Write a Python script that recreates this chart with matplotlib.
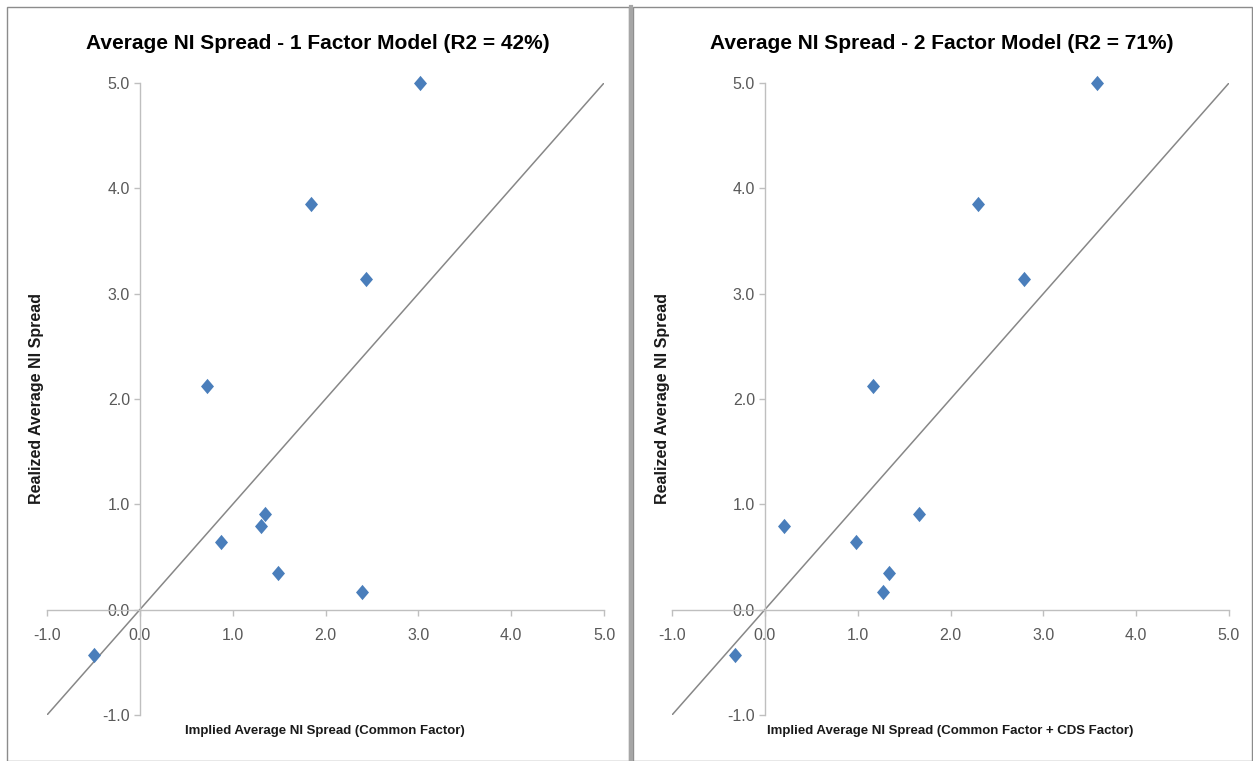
import matplotlib
matplotlib.use("Agg")
import matplotlib.pyplot as plt
from matplotlib.patches import Rectangle
from matplotlib.lines import Line2D
from matplotlib.path import Path

# realized spread (same for both panels)
realized = [5.0, 3.85, 3.14, 2.12, 0.64, 0.79, 0.91, 0.35, 0.17, -0.43]
# implied spread, 1 factor model
implied_1f = [3.02, 1.84, 2.44, 0.72, 0.87, 1.30, 1.35, 1.49, 2.39, -0.49]
# implied spread, 2 factor model
implied_2f = [3.58, 2.30, 2.79, 1.17, 0.98, 0.21, 1.66, 1.34, 1.27, -0.32]

titles = ["Average NI Spread - 1 Factor Model (R2 = 42%)",
          "Average NI Spread - 2 Factor Model (R2 = 71%)"]
xlabels = ["Implied Average NI Spread (Common Factor)",
           "Implied Average NI Spread (Common Factor + CDS Factor)"]
ylabel = "Realized Average NI Spread"
ticks = [-1.0, 0.0, 1.0, 2.0, 3.0, 4.0, 5.0]
diag = [-1.0, 5.0]

plt.rcParams['font.family'] = ["Liberation Sans", "DejaVu Sans"]

W, H = 1253, 761
fig = plt.figure(figsize=(W / 100, H / 100), dpi=100)
fig.patch.set_facecolor("white")

# diamond slightly narrower than tall
diamond = Path([(0, 1), (0.85, 0), (0, -1), (-0.85, 0), (0, 1)],
               [Path.MOVETO, Path.LINETO, Path.LINETO, Path.LINETO, Path.CLOSEPOLY])

# panel frames
fig.add_artist(Rectangle((7 / W, 0), 622 / W, 1 - 7 / H, transform=fig.transFigure,
                         fill=False, edgecolor="#8c8c8c", lw=1.0))
fig.add_artist(Rectangle((633 / W, 0), 619 / W, 1 - 7 / H, transform=fig.transFigure,
                         fill=False, edgecolor="#8c8c8c", lw=1.0))
fig.add_artist(Line2D([631 / W, 631 / W], [0, 1 - 7 / H], transform=fig.transFigure,
                      color="#a6a6a6", lw=3.0))

lefts = [47 / W, 672 / W]
xs = [implied_1f, implied_2f]
panel_centers = [318 / W, 942 / W]

for i in range(2):
    ax = fig.add_axes([lefts[i], 1 - 715 / H, 557 / W, 632 / H])
    ax.set_xlim(-1, 5)
    ax.set_ylim(-1, 5)
    for s in ["top", "right"]:
        ax.spines[s].set_visible(False)
    ax.spines["left"].set_position(("data", 0))
    ax.spines["bottom"].set_position(("data", 0))
    for s in ["left", "bottom"]:
        ax.spines[s].set_color("#bfbfbf")
        ax.spines[s].set_linewidth(1.0)
    ax.set_xticks(ticks)
    ax.set_yticks(ticks)
    ax.set_xticklabels(["%.1f" % t for t in ticks])
    ax.set_yticklabels(["%.1f" % t for t in ticks])
    ax.tick_params(direction="out", length=4, width=1.0, color="#bfbfbf",
                   labelsize=11.5, labelcolor="#595959")
    ax.tick_params(axis="x", pad=9)
    ax.tick_params(axis="y", pad=3)

    ax.plot(diag, diag, color="#878787", lw=1.1, zorder=2)
    ax.plot(xs[i], realized, linestyle="none", marker=diamond, markersize=11,
            color="#4a7ebb", markeredgewidth=0, zorder=3, clip_on=False)

    fig.text(panel_centers[i], 1 - 49 / H, titles[i], ha="center", va="baseline",
             fontsize=15, fontweight="bold", color="#000000")
    fig.text(lefts[i] + 278 / W, 1 - 731 / H, xlabels[i], ha="center", va="center",
             fontsize=9.5, fontweight="bold", color="#1a1a1a")
    fig.text(lefts[i] - 10 / W, 1 - 399 / H, ylabel, ha="center", va="center",
             rotation=90, fontsize=11.5, fontweight="bold", color="#1a1a1a")

fig.savefig("out.png", dpi=100, facecolor="white")
